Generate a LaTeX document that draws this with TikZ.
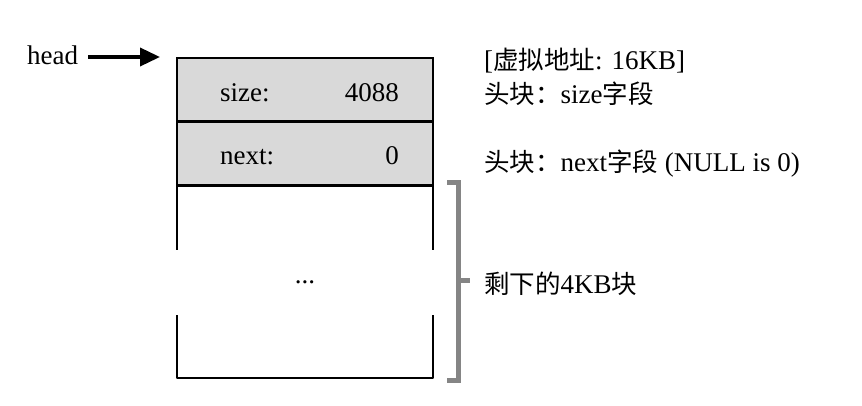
\documentclass[tikz,border=0pt]{standalone}
\usepackage{fontspec}
\setmainfont{Liberation Serif}
\newfontfamily\cjk{Noto Sans CJK SC}
\newcommand{\zh}[1]{{\cjk\fontsize{25.5}{30}\selectfont #1}}
\usetikzlibrary{arrows.meta}
\definecolor{cellgray}{HTML}{D9D9D9}
\definecolor{brgray}{HTML}{858585}
\tikzset{
  cell/.style={draw=black, line width=2.2pt, fill=cellgray, minimum width=256pt, minimum height=63.5pt, inner sep=0pt, outer sep=0pt, anchor=north west},
  lbl/.style={font=\fontsize{27}{30}\selectfont, inner sep=0pt},
  side/.style={line width=2.4pt, black},
}
\begin{document}
\begin{tikzpicture}[x=1pt,y=-1pt]
\useasboundingbox (0,0) rectangle (862,406);
% cells
\node[cell] (sz) at (177,58) {};
\node[cell] (nx) at (177,122) {};
\node[lbl, anchor=base west] (szl) at (220,102) {size:};
\node[lbl, anchor=base east] (szv) at (399,102) {4088};
\node[lbl, anchor=base west] (nxl) at (220,165) {next:};
\node[lbl, anchor=base east] (nxv) at (399,165) {0};
% lower block
\coordinate (bl) at (177,378);
\coordinate (br) at (433,378);
\coordinate (lt) at (177,250);
\coordinate (lb) at (177,315);
\coordinate (rt) at (433,250);
\coordinate (rb) at (433,315);
\draw[side] (nx.south west) -- (lt);
\draw[side] (nx.south east) -- (rt);
\draw[side, line join=round] (lb) -- (bl) -- (br) -- (rb);
\node[lbl, anchor=base] (dots) at (305,283) {...};
% head
\node[lbl, anchor=base west] (head) at (27,65) {head};
\coordinate (hs) at (88,57);
\coordinate (harr) at (160,57);
\draw[line width=3.6pt, -{Triangle[length=20pt,width=18pt]}] (hs) -- (harr);
% bracket
\coordinate (bt) at (447,183);
\coordinate (bb) at (447,380);
\coordinate (bm) at (470,280);
\draw[brgray, line width=5pt, line cap=butt] (bt) -- (458,183) -- (458,380) -- (bb);
\draw[brgray, line width=5pt] (458,280) -- (bm);
% right labels
\node[lbl, anchor=base west] (t1) at (484,70) {[\zh{虚拟地址}: 16KB]};
\node[lbl, anchor=base west] (t2) at (484,104) {\zh{头块：}size\zh{字段}};
\node[lbl, anchor=base west] (t3) at (484,172) {\zh{头块：}next\zh{字段} (NULL is 0)};
\node[lbl, anchor=base west] (t4) at (484,293) {\zh{剩下的}4KB\zh{块}};
\end{tikzpicture}
\end{document}
